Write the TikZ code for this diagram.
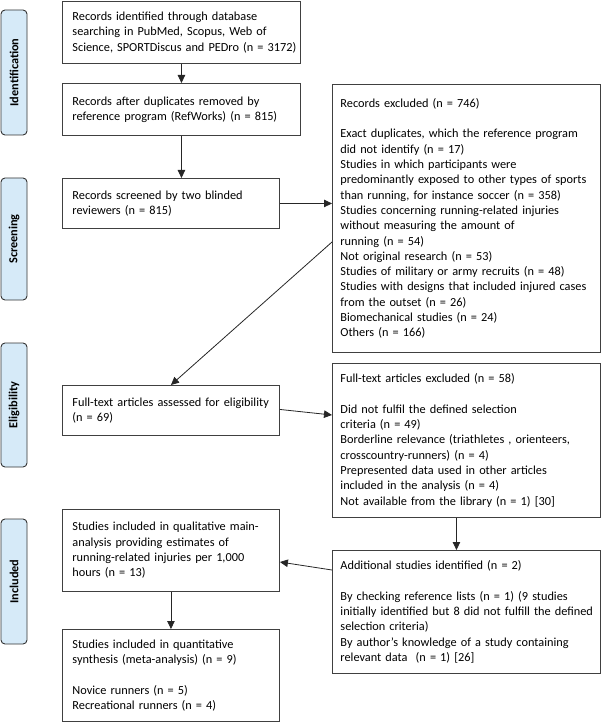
\documentclass[tikz,border=0pt]{standalone}
\usepackage{fontspec}
\setmainfont{Carlito}
\usetikzlibrary{arrows.meta,calc}
\definecolor{stageblue}{RGB}{214,234,248}
\tikzset{
  flowbox/.style={draw=black!75, line width=0.9pt, anchor=north west, align=left, inner xsep=6pt, inner ysep=0pt, font=\fontsize{12.3}{15.3}\selectfont, execute at begin node={\leftskip=4pt\rightskip=-5pt plus 1fil}},
  sidebox/.style={flowbox, execute at begin node={\leftskip=2pt\rightskip=-5pt plus 1fil}},
  stage/.style={draw=black!80, line width=0.9pt, fill=stageblue, rounded corners=4pt, rotate=90, inner sep=0pt, font=\fontsize{12.3}{14}\selectfont\bfseries},
  flow/.style={draw=black!85, line width=0.8pt, -{Triangle[length=8pt,width=7.5pt]}}
}
\def\stagebox(#1,#2,#3,#4){
  \node[stage, minimum width=#3-#2, minimum height=26] (#1) at (14,{(#2+#3)/2}) {#4};
}

\begin{document}
\begin{tikzpicture}[x=1pt,y=-1pt]
\useasboundingbox (0,0) rectangle (602,722);
\stagebox(ident,10,135,Identification)
\stagebox(scrn,178,300,Screening)
\stagebox(elg,343,467,Eligibility)
\stagebox(incl,519,644,Included)
% left column
\node[flowbox, minimum width=238, minimum height=62, text width=226] (recid) at (62,1) {Records identified through database\\searching in PubMed, Scopus, Web of\\Science, SPORTDiscus and PEDro (n = 3172)};
\node[flowbox, minimum width=238, minimum height=52, text width=226] (recdup) at (62,83) {Records after duplicates removed by\\reference program (RefWorks) (n = 815)};
\node[flowbox, minimum width=217, minimum height=50, text width=205] (screen) at (62,178) {Records screened by two blinded\\reviewers (n = 815)};
\node[flowbox, minimum width=217, minimum height=50, text width=205] (elig) at (62,385) {Full-text articles assessed for eligibility\\(n = 69)};
\node[flowbox, minimum width=217, minimum height=82, text width=205] (qual) at (62,509) {Studies included in qualitative main-\\analysis providing estimates of\\running-related injuries per 1,000\\hours (n = 13)};
\node[flowbox, minimum width=217, minimum height=92, text width=205] (quant) at (62,629) {Studies included in quantitative\\synthesis (meta-analysis) (n = 9)\\[15.3pt]Novice runners (n = 5)\\Recreational runners (n = 4)};
% right column
\node[sidebox, minimum width=268, minimum height=268, text width=256] (excl) at (332,84) {Records excluded (n = 746)\\[15.3pt]Exact duplicates, which the reference program\\did not identify (n = 17)\\Studies in which participants were\\predominantly exposed to other types of sports\\than running, for instance soccer (n = 358)\\Studies concerning running-related injuries\\without measuring the amount of\\running (n = 54)\\Not original research (n = 53)\\Studies of military or army recruits (n = 48)\\Studies with designs that included injured cases\\from the outset (n = 26)\\Biomechanical studies (n = 24)\\Others (n = 166)};
\node[sidebox, minimum width=268, minimum height=154, text width=256] (ftexcl) at (332,363) {Full-text articles excluded (n = 58)\\[15.3pt]Did not fulfil the defined selection\\criteria (n = 49)\\Borderline relevance (triathletes , orienteers,\\crosscountry-runners) (n = 4)\\Prepresented data used in other articles\\included in the analysis (n = 4)\\Not available from the library (n = 1) [30]};
\node[sidebox, minimum width=268, minimum height=123, text width=256] (addl) at (332,550) {Additional studies identified (n = 2)\\[15.3pt]By checking reference lists (n = 1) (9 studies\\initially identified but 8 did not fulfill the defined\\selection criteria)\\By author’s knowledge of a study containing\\relevant data~~(n = 1) [26]};
% connectors
\coordinate (exclout) at ($(excl.north west)+(0,158)$);
\coordinate (ftdown) at ($(ftexcl.south)+(-10,0)$);
\draw[flow] (recid.south) -- (recdup.north);
\draw[flow] (recdup.south) -- (recdup.south |- screen.north);
\draw[flow] (screen.east) -- (screen.east -| excl.west);
\draw[flow] (exclout) -- (elig.north);
\draw[flow] ($(elig.east)+(0,-1)$) -- ($(ftexcl.north west)+(0,52)$);
\draw[flow] (ftdown) -- (ftdown |- addl.north);
\draw[flow] ($(addl.north west)+(0,20)$) -- ($(qual.north east)+(0,53)$);
\draw[flow] (qual.south) -- (quant.north);
\end{tikzpicture}
\end{document}
